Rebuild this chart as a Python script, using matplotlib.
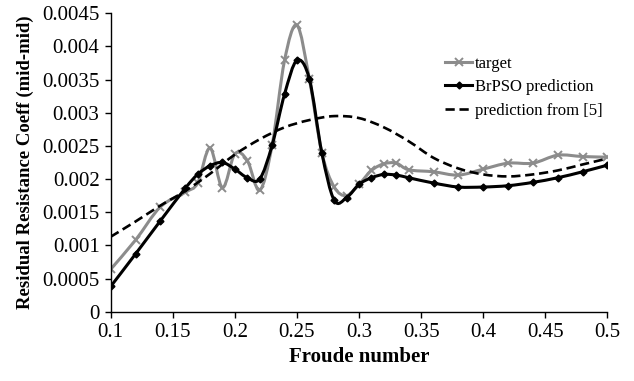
import numpy as np
import matplotlib
matplotlib.use('Agg')
import matplotlib.pyplot as plt
from matplotlib.path import Path
from matplotlib.patches import PathPatch
from matplotlib.lines import Line2D

plt.rcParams['font.family'] = 'Liberation Serif'

# target values
target_x = [0.10, 0.12, 0.14, 0.16, 0.17, 0.18, 0.19, 0.20, 0.21, 0.22, 0.23, 0.24,
            0.25, 0.26, 0.27, 0.28, 0.29, 0.30, 0.31, 0.32, 0.33, 0.34, 0.36, 0.38,
            0.40, 0.42, 0.44, 0.46, 0.48, 0.50]
target_y = [0.00064, 0.00108, 0.00158, 0.00180, 0.00194, 0.00247, 0.00187, 0.00238,
            0.00228, 0.00183, 0.00251, 0.00379, 0.00432, 0.00351, 0.00240, 0.00188,
            0.00175, 0.00192, 0.00213, 0.00223, 0.00224, 0.00214, 0.00211, 0.00206,
            0.00215, 0.00224, 0.00224, 0.00236, 0.00234, 0.00233]

# BrPSO prediction
brpso_x = [0.10, 0.12, 0.14, 0.16, 0.17, 0.18, 0.19, 0.20, 0.21, 0.22, 0.23, 0.24,
           0.25, 0.26, 0.27, 0.28, 0.29, 0.30, 0.31, 0.32, 0.33, 0.34, 0.36, 0.38,
           0.40, 0.42, 0.44, 0.46, 0.48, 0.50]
brpso_y = [0.00038, 0.00087, 0.00137, 0.00186, 0.00207, 0.00220, 0.00225, 0.00215,
           0.00202, 0.00200, 0.00251, 0.00328, 0.00379, 0.00351, 0.00240, 0.00168,
           0.00172, 0.00192, 0.00202, 0.00207, 0.00206, 0.00202, 0.00194, 0.00188,
           0.00188, 0.00190, 0.00195, 0.00202, 0.00211, 0.00221]

# prediction from [5] (dashed)
ref_x = [0.10, 0.12, 0.14, 0.16, 0.18, 0.20, 0.22, 0.24, 0.26, 0.28, 0.30, 0.32,
         0.34, 0.36, 0.38, 0.40, 0.42, 0.44, 0.46, 0.48, 0.50]
ref_y = [0.00113, 0.00136, 0.00160, 0.00182, 0.00208, 0.00237, 0.00260, 0.00278,
         0.00289, 0.00295, 0.00292, 0.00278, 0.00257, 0.00232, 0.00216, 0.00207,
         0.00204, 0.00207, 0.00213, 0.00222, 0.00231]

x_ticks = [0.1, 0.15, 0.2, 0.25, 0.3, 0.35, 0.4, 0.45, 0.5]
x_tick_labels = ['0.1', '0.15', '0.2', '0.25', '0.3', '0.35', '0.4', '0.45', '0.5']
y_ticks = [0, 0.0005, 0.001, 0.0015, 0.002, 0.0025, 0.003, 0.0035, 0.004, 0.0045]
y_tick_labels = ['0', '0.0005', '0.001', '0.0015', '0.002', '0.0025', '0.003',
                 '0.0035', '0.004', '0.0045']


def smooth_path(xs, ys):
    # Excel-like smoothed line: cubic Bezier segments (Catmull-Rom control points)
    p = np.column_stack([xs, ys])
    n = len(p)
    verts = [p[0]]
    codes = [Path.MOVETO]
    for i in range(n - 1):
        p0 = p[i - 1] if i > 0 else p[i]
        p3 = p[i + 2] if i + 2 < n else p[i + 1]
        c1 = p[i] + (p[i + 1] - p0) / 6
        c2 = p[i + 1] - (p3 - p[i]) / 6
        verts += [c1, c2, p[i + 1]]
        codes += [Path.CURVE4] * 3
    return Path(verts, codes)


fig = plt.figure(figsize=(6.34, 3.81), dpi=100)
ax = fig.add_axes([0.1746, 0.182, 0.7834, 0.783])

gray = '#8c8c8c'
dash = (0, (3.5, 1.8))
ax.add_patch(PathPatch(smooth_path(target_x, target_y), fill=False,
                       edgecolor=gray, linewidth=2.2, zorder=2))
ax.plot(target_x, target_y, linestyle='none', marker='x', color=gray,
        markersize=6, markeredgewidth=1.4, zorder=2)

ax.add_patch(PathPatch(smooth_path(brpso_x, brpso_y), fill=False,
                       edgecolor='black', linewidth=2.2, zorder=3))
ax.plot(brpso_x, brpso_y, linestyle='none', marker='D', color='black',
        markersize=3.5, zorder=3)

ax.add_patch(PathPatch(smooth_path(ref_x, ref_y), fill=False, edgecolor='black',
                       linewidth=1.9, linestyle=dash, zorder=4))

ax.set_xlim(0.1, 0.5)
ax.set_ylim(0, 0.0045)
ax.set_xticks(x_ticks)
ax.set_xticklabels(x_tick_labels, fontsize=15)
ax.set_yticks(y_ticks)
ax.set_yticklabels(y_tick_labels, fontsize=15)
ax.tick_params(direction='out', length=4, width=1, colors='black', pad=4)
for s in ['top', 'right']:
    ax.spines[s].set_visible(False)
for s in ['left', 'bottom']:
    ax.spines[s].set_linewidth(1)

ax.set_xlabel('Froude number', fontsize=15, fontweight='bold', labelpad=4)
ax.set_ylabel('Residual Resistance Coeff (mid-mid)', fontsize=13.5,
              fontweight='bold', labelpad=6)

handles = [
    Line2D([], [], color=gray, linewidth=2.2, marker='x', markersize=6,
           markeredgewidth=1.4),
    Line2D([], [], color='black', linewidth=2.2, marker='D', markersize=3.5),
    Line2D([], [], color='black', linewidth=1.9, linestyle=dash),
]
ax.legend(handles, ['target', 'BrPSO prediction', 'prediction from [5]'],
          loc='upper left', bbox_to_anchor=(0.66, 0.88), frameon=False,
          fontsize=12, handlelength=1.6, handletextpad=0.2, labelspacing=0.45,
          borderaxespad=0)

fig.savefig('out.png', dpi=100)
